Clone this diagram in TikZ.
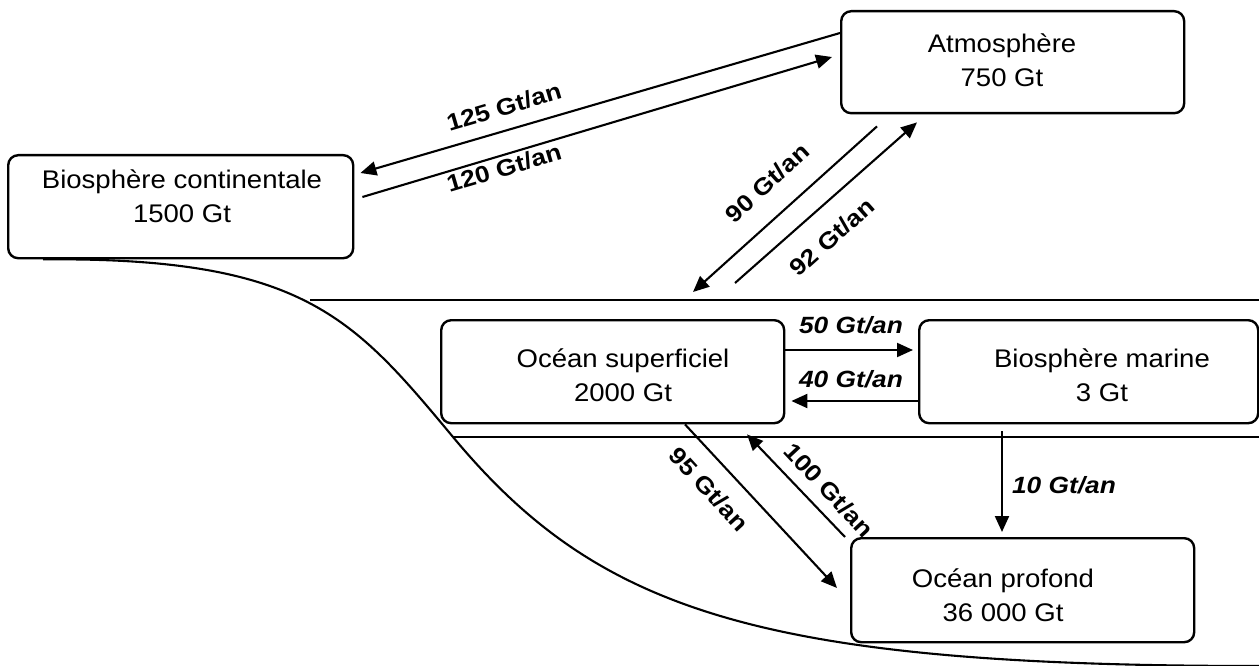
\documentclass[tikz,border=0pt]{standalone}
\usepackage{fontspec}
\setmainfont{Liberation Sans}[FakeStretch=1.08]
\newfontfamily\lblfont{Liberation Sans}[FakeStretch=1.12]
\usetikzlibrary{arrows.meta,calc}
\begin{document}
\begin{tikzpicture}[x=1pt,y=-1pt,
  box/.style={draw, line width=2.4pt, rounded corners=10pt, anchor=north west, inner sep=0pt},
  txt/.style={font=\fontsize{25.5}{34}\selectfont, align=center, inner sep=0pt},
  conn/.style={line width=2.1pt, -{Triangle[length=16pt,width=14pt]}},
  plain/.style={line width=2.1pt},
  lbl/.style={font=\lblfont\bfseries\fontsize{23.5}{28}\selectfont, inner sep=0pt},
  lbli/.style={font=\lblfont\bfseries\itshape\fontsize{23.5}{28}\selectfont, inner sep=0pt}]
\useasboundingbox (0,0) rectangle (1259,666);

% boxes
\node[box, minimum width=343, minimum height=102] (atm) at (840,10) {};
\node[box, minimum width=345, minimum height=103] (bc) at (7,154) {};
\node[box, minimum width=343, minimum height=103] (os) at (440,319) {};
\node[box, minimum width=339, minimum height=103] (bm) at (918,319) {};
\node[box, minimum width=343, minimum height=104] (op) at (850,537) {};

% box texts
\node[txt] (atmT) at (1002,60.5) {Atmosphère\\750 Gt};
\node[txt] (bcT) at (182,196.5) {Biosphère continentale\\1500 Gt};
\node[txt] (osT) at (623,375) {Océan superficiel\\2000 Gt};
\node[txt] (bmT) at (1102,375) {Biosphère marine\\3 Gt};
\node[txt] (opT) at (1003,595) {Océan profond\\36 000 Gt};

% sea surface and deep lines, sea floor curve
\draw[plain] (310,300) -- (1259,300);
\draw[plain] (453,437) -- (1259,437);
\draw[plain] ($(bc.south west)+(36,0)$) .. controls (303,257) and (353,317) .. (453,437)
  .. controls (598,611) and (759,666) .. (1259,666);

% fluxes
\draw[conn] ($(atm.north west)+(0,23)$) -- ($(bc.north east)+(6,19)$);
\draw[conn] ($(bc.north east)+(8,43)$) -- ($(atm.north west)+(-8,47)$);
\draw[conn] ($(atm.south west)+(37,12)$) -- ($(os.north west)+(253,-27)$);
\draw[conn] ($(os.north west)+(295,-36)$) -- ($(atm.south west)+(77,8)$);
\draw[conn] ($(os.north east)+(0,31)$) -- ($(bm.north west)+(-5,31)$);
\draw[conn] ($(bm.north west)+(0,82)$) -- ($(os.north east)+(6,82)$);
\draw[conn] ($(os.south west)+(245,0)$) -- ($(op.north west)+(-13,51)$);
\draw[conn] ($(op.north west)+(-5,0)$) -- ($(os.south west)+(307,10)$);
\draw[conn] ($(bm.south west)+(84,7)$) -- ($(op.north west)+(152,-5)$);

% labels
\node[lbl, rotate=16.5] (l125) at (504,107) {125 Gt/an};
\node[lbl, rotate=16.5] (l120) at (504,168) {120 Gt/an};
\node[lbl, rotate=42.4] (l90) at (767,183) {90 Gt/an};
\node[lbl, rotate=41.8] (l92) at (832,237) {92 Gt/an};
\node[lbli] (l50) at (851,325) {50 Gt/an};
\node[lbli] (l40) at (851,379) {40 Gt/an};
\node[lbli] (l10) at (1064,485) {10 Gt/an};
\node[lbl, rotate=-47.5] (l95) at (709,489) {95 Gt/an};
\node[lbl, rotate=-47] (l100) at (829,490) {100 Gt/an};
\end{tikzpicture}
\end{document}
